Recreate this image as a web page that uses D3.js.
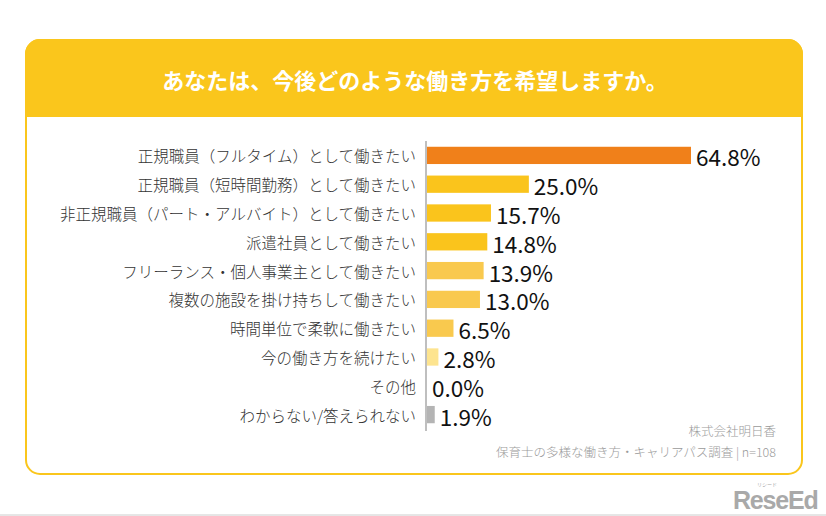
<!DOCTYPE html>
<html>
<head>
<meta charset="utf-8">
<script src="https://cdn.jsdelivr.net/npm/d3@7"></script>
<style>
  html, body { margin: 0; padding: 0; background: #fff; }
  svg { display: block; font-family: "Noto Sans CJK JP", "Noto Sans", sans-serif; }
</style>
</head>
<body>
<svg id="chart" width="826" height="516"></svg>
<script>
// 回答項目と割合(%)
const categories = [
  "正規職員（フルタイム）として働きたい",
  "正規職員（短時間勤務）として働きたい",
  "非正規職員（パート・アルバイト）として働きたい",
  "派遣社員として働きたい",
  "フリーランス・個人事業主として働きたい",
  "複数の施設を掛け持ちして働きたい",
  "時間単位で柔軟に働きたい",
  "今の働き方を続けたい",
  "その他",
  "わからない/答えられない"
];
const values = [64.8, 25.0, 15.7, 14.8, 13.9, 13.0, 6.5, 2.8, 0.0, 1.9];
const barColors = ["#f0801a", "#fac41c", "#fac41c", "#fac41c", "#f9c94e", "#f9c94e", "#f9c94e", "#fde48f", "#fde48f", "#b4b4b4"];
const title = "あなたは、今後どのような働き方を希望しますか。";
const sourceLines = ["株式会社明日香", "保育士の多様な働き方・キャリアパス調査 | n=108"];

const svg = d3.select('#chart');
const card = { x: 26, y: 40, w: 776, h: 434, r: 14, head: 76 };
const yellow = '#fac61c';

// カード枠
svg.append('rect')
  .attr('x', card.x).attr('y', card.y)
  .attr('width', card.w).attr('height', card.h)
  .attr('rx', card.r)
  .attr('fill', '#fff')
  .attr('stroke', yellow).attr('stroke-width', 2);

// ヘッダー（上だけ角丸）
const hp = d3.path();
hp.moveTo(card.x, card.y + card.head);
hp.lineTo(card.x, card.y + card.r);
hp.arcTo(card.x, card.y, card.x + card.r, card.y, card.r);
hp.lineTo(card.x + card.w - card.r, card.y);
hp.arcTo(card.x + card.w, card.y, card.x + card.w, card.y + card.r, card.r);
hp.lineTo(card.x + card.w, card.y + card.head);
hp.closePath();
svg.append('path').attr('d', hp.toString()).attr('fill', yellow)
  .attr('stroke', yellow).attr('stroke-width', 2);

svg.append('text')
  .attr('x', card.x + card.w / 2 + 1).attr('y', card.y + card.head / 2 + 1)
  .attr('text-anchor', 'middle').attr('dominant-baseline', 'central')
  .attr('fill', '#fff').attr('font-size', 22).attr('font-weight', 700)
  .text(title);

// 棒グラフ
const x0 = 427;
const x = d3.scaleLinear().domain([0, 64.8]).range([x0, 691]);
const y = d3.scaleBand().domain(categories).range([141, 429]).paddingInner(0.4).paddingOuter(0.2);

const g = svg.append('g');
g.selectAll('rect.bar').data(categories).join('rect')
  .attr('class', 'bar')
  .attr('x', x0)
  .attr('y', d => y(d))
  .attr('width', (d, i) => x(values[i]) - x0)
  .attr('height', y.bandwidth())
  .attr('fill', (d, i) => barColors[i]);

g.selectAll('text.cat').data(categories).join('text')
  .attr('class', 'cat')
  .attr('x', 416)
  .attr('y', d => y(d) + y.bandwidth() / 2)
  .attr('text-anchor', 'end').attr('dominant-baseline', 'central')
  .attr('font-size', 15.5).attr('font-weight', 300).attr('fill', '#333')
  .text(d => d);

g.selectAll('text.val').data(categories).join('text')
  .attr('class', 'val')
  .attr('x', (d, i) => x(values[i]) + 5)
  .attr('y', d => y(d) + y.bandwidth() / 2 + 1)
  .attr('dominant-baseline', 'central')
  .attr('font-size', 22.5).attr('fill', '#111')
  .text((d, i) => values[i].toFixed(1) + '%');

// 縦軸線
svg.append('line')
  .attr('x1', x0 - 1).attr('x2', x0 - 1)
  .attr('y1', 141).attr('y2', 431)
  .attr('stroke', '#aaa').attr('stroke-width', 1.5);

// 出典
svg.selectAll('text.src').data(sourceLines).join('text')
  .attr('class', 'src')
  .attr('x', 776)
  .attr('y', (d, i) => 436 + i * 21)
  .attr('text-anchor', 'end')
  .attr('font-size', 12.5).attr('font-weight', 300).attr('fill', '#9a9a9a')
  .text(d => d);

// ロゴ
const logo = svg.append('g').attr('fill', '#a9a9a9');
logo.append('text').attr('x', 733).attr('y', 509)
  .attr('font-size', 25).attr('font-weight', 700)
  .attr('font-family', '"Liberation Sans", sans-serif')
  .attr('letter-spacing', -1.2)
  .text('ReseEd');
logo.append('text').attr('x', 757).attr('y', 486)
  .attr('font-size', 5).text('リシード');
svg.append('line').attr('x1', 0).attr('x2', 826).attr('y1', 515).attr('y2', 515)
  .attr('stroke', '#ccc').attr('stroke-width', 1);
</script>
</body>
</html>
